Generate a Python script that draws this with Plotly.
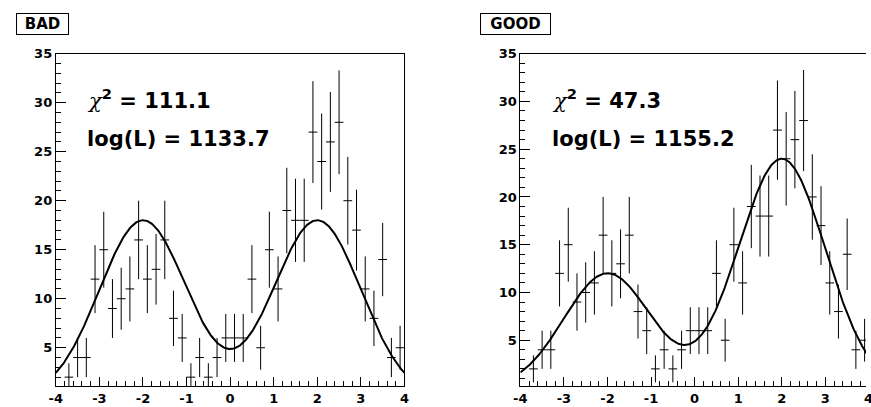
import numpy as np
import plotly.graph_objects as go

# Histogram: 40 bins of width 0.2 on [-4, 4]
bin_centers = [-3.9, -3.7, -3.5, -3.3, -3.1, -2.9, -2.7, -2.5, -2.3, -2.1,
               -1.9, -1.7, -1.5, -1.3, -1.1, -0.9, -0.7, -0.5, -0.3, -0.1,
               0.1, 0.3, 0.5, 0.7, 0.9, 1.1, 1.3, 1.5, 1.7, 1.9,
               2.1, 2.3, 2.5, 2.7, 2.9, 3.1, 3.3, 3.5, 3.7, 3.9]
counts = [0, 2, 4, 4, 12, 15, 9, 10, 11, 16,
          12, 13, 16, 8, 6, 2, 4, 2, 4, 6,
          6, 6, 12, 5, 15, 11, 19, 18, 18, 27,
          24, 26, 28, 20, 17, 11, 8, 14, 4, 5]
bin_half_width = 0.1

# Two-Gaussian models
bad_amp = [18.0, 18.0]
good_amp = [12.0, 24.0]
peak_means = [-2.0, 2.0]
peak_sigmas = [1.0, 1.0]

panel_titles = ["BAD", "GOOD"]
chi2_values = ["111.1", "47.3"]
logl_values = ["1133.7", "1155.2"]

x_tick_vals = [-4, -3, -2, -1, 0, 1, 2, 3, 4]
x_tick_text = ["-4", "-3", "-2", "-1", "0", "1", "2", "3", "4"]
y_tick_vals = [5, 10, 15, 20, 25, 30, 35]
y_tick_text = ["5", "10", "15", "20", "25", "30", "35"]

W, H = 871, 407
PX_PER_UNIT = 353.5 / 8.0

def model(x, amps):
    y = np.zeros_like(x)
    for a, m, s in zip(amps, peak_means, peak_sigmas):
        y += a * np.exp(-0.5 * ((x - m) / s) ** 2)
    return y

xs = [c for c, n in zip(bin_centers, counts) if n > 0]
ns = [n for n in counts if n > 0]
errs = [float(np.sqrt(n)) for n in ns]
xf = np.linspace(-4, 4, 400)

fig = go.Figure()
for i, amps in enumerate([bad_amp, good_amp]):
    xa = "x" if i == 0 else "x2"
    ya = "y" if i == 0 else "y2"
    fig.add_trace(go.Scatter(
        x=xs, y=ns, mode="markers", xaxis=xa, yaxis=ya,
        marker=dict(size=1, color="black", opacity=0),
        error_x=dict(type="constant", value=bin_half_width, width=0,
                     thickness=1, color="black"),
        error_y=dict(type="data", array=errs, width=0,
                     thickness=1, color="black"),
        showlegend=False, hoverinfo="skip"))
    fig.add_trace(go.Scatter(
        x=xf, y=model(xf, amps), mode="lines", xaxis=xa, yaxis=ya,
        line=dict(color="black", width=2), showlegend=False))

tickfont = dict(family="DejaVu Sans", size=13, color="black", weight="bold")

def xaxis_cfg(dom, rng, vals, texts):
    return dict(domain=dom, range=rng, showgrid=False, zeroline=False,
                showline=True, linecolor="black", linewidth=1, mirror=True,
                ticks="inside", ticklen=9, tickcolor="black", tickwidth=1,
                tickvals=vals, ticktext=texts, tickfont=tickfont,
                minor=dict(dtick=0.2, tick0=0, ticks="inside", ticklen=5,
                           tickcolor="black", tickwidth=1, showgrid=False))

def yaxis_cfg(anchor, rng, mirror):
    return dict(anchor=anchor, domain=[1 - 386 / H, 1 - 47.5 / H], range=rng,
                showgrid=False, zeroline=False, showline=True,
                linecolor="black", linewidth=1, mirror=mirror,
                ticks="inside", ticklen=10, tickcolor="black", tickwidth=1,
                tickvals=y_tick_vals, ticktext=y_tick_text, tickfont=tickfont,
                minor=dict(dtick=1, tick0=0, ticks="inside", ticklen=5,
                           tickcolor="black", tickwidth=1, showgrid=False))

left_x0, left_x1 = 49.5, 403.0
right_x0 = 520.5
right_max = -4 + (W - right_x0) / PX_PER_UNIT

annotations = []
box_specs = [(9.5, 62.5), (480.0, 551.0)]
text_x = [79.0, 551.0]
for i in range(2):
    bx0, bx1 = box_specs[i]
    annotations.append(dict(
        xref="paper", yref="paper", x=bx0 / W, y=1 - 6.5 / H,
        xanchor="left", yanchor="top", text=panel_titles[i],
        showarrow=False, width=bx1 - bx0 - 2, height=20, borderpad=0,
        bordercolor="black", borderwidth=1, bgcolor="white",
        font=dict(family="DejaVu Sans", size=15, color="black", weight="bold")))
    chi = ("<span style=\"font-family:'DejaVu Serif';font-style:italic;"
           "font-weight:normal\">χ</span><sup>2</sup> = " + chi2_values[i])
    annotations.append(dict(
        xref="paper", yref="paper", x=text_x[i] / W, y=1 - 94 / H,
        xanchor="left", yanchor="middle", text=chi, showarrow=False,
        font=dict(family="DejaVu Sans", size=21, color="black", weight="bold")))
    annotations.append(dict(
        xref="paper", yref="paper", x=text_x[i] / W, y=1 - 134 / H,
        xanchor="left", yanchor="middle", text="log(L) = " + logl_values[i],
        showarrow=False,
        font=dict(family="DejaVu Sans", size=21, color="black", weight="bold")))

# last tick label of the right panel sits just past the page edge
annotations.append(dict(
    xref="paper", yref="paper", x=(right_x0 + 8 * PX_PER_UNIT) / W,
    y=1 - 389 / H, xanchor="center", yanchor="top",
    text=x_tick_text[-1], showarrow=False, font=tickfont))

fig.update_layout(
    width=W, height=H, margin=dict(l=0, r=0, t=0, b=0),
    paper_bgcolor="white", plot_bgcolor="white",
    xaxis=xaxis_cfg([left_x0 / W, left_x1 / W], [-4, 4],
                    x_tick_vals, x_tick_text),
    yaxis=yaxis_cfg("x", [1.06, 35], True),
    xaxis2=xaxis_cfg([right_x0 / W, 1.0], [-4, right_max],
                     x_tick_vals[:-1], x_tick_text[:-1]),
    yaxis2=yaxis_cfg("x2", [0.17, 35], False),
    annotations=annotations,
)

fig.write_html("out.html")
